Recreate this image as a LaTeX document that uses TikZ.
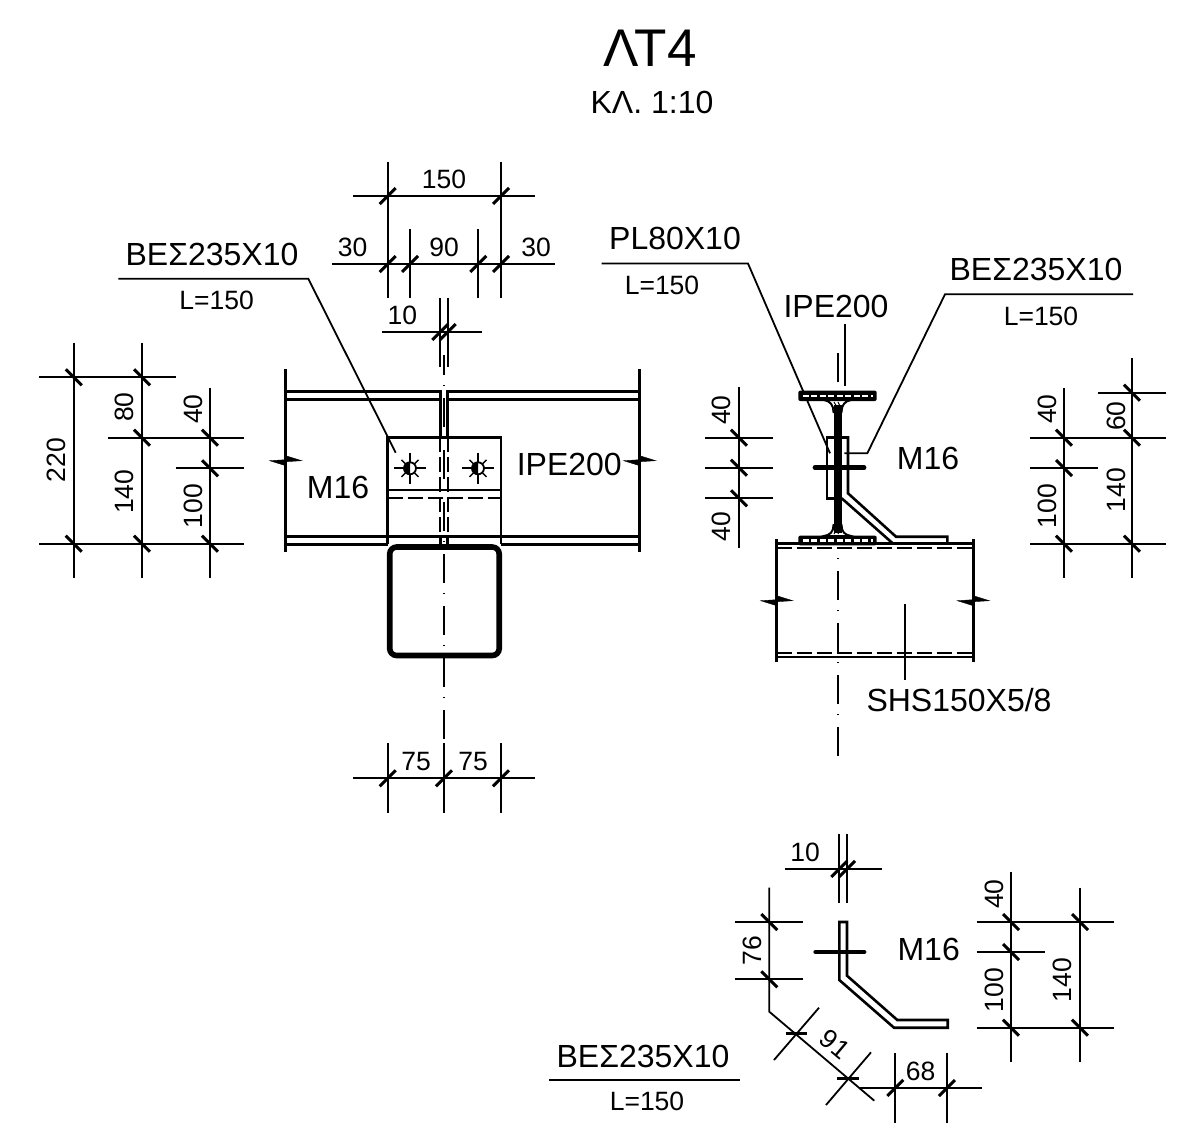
\documentclass[tikz,border=0pt]{standalone}
\usepackage{fontspec}
\setmainfont{Liberation Sans}
\usetikzlibrary{positioning}
\tikzset{
  outline/.style={black, line width=2.6pt},
  hiddenline/.style={black, line width=2pt, dash pattern=on 15pt off 5pt},
  axisline/.style={black, line width=1.4pt, dash pattern=on 29pt off 12pt on 1pt off 10pt},
  dimline/.style={black, line width=1.8pt},
  dimtick/.style={black, line width=3pt},
  boltline/.style={black, line width=4.8pt, line cap=round},
  dimtext/.style={inner sep=0pt, font=\fontsize{26.5}{26}\selectfont},
  marktext/.style={inner sep=0pt, font=\fontsize{32}{32}\selectfont}
}
\begin{document}
\begin{tikzpicture}[x=1pt,y=-1pt]
      \useasboundingbox (0,0) rectangle (1177,1124);
      \node[inner sep=0pt, font=\fontsize{53}{53}\selectfont] (title) at (650,48.5) {ΛΤ4};
      \node[marktext] (scale) at (652,102) {ΚΛ. 1:10};

      % left view, beam
      \draw[outline] (285.7,369) -- (285.7,552.3);
      \draw[outline] (639.7,369) -- (639.7,552.3);
      \draw[outline] (285.7,391.7) -- (440.3,391.7) -- (440.3,437.3);
      \draw[outline] (285.7,399.3) -- (440.3,399.3);
      \draw[outline] (639.7,391.7) -- (447.7,391.7) -- (447.7,437.3);
      \draw[outline] (639.7,399.3) -- (447.7,399.3);
      \draw[outline] (285.7,536.7) -- (639.7,536.7);
      \draw[outline] (285.7,544.3) -- (387.7,544.3);
      \draw[outline] (501,544.3) -- (639.7,544.3);
      \draw[hiddenline] (440.3,437.3) -- (440.3,536.7);
      \draw[hiddenline] (447.7,437.3) -- (447.7,536.7);
      \draw[outline] (440.3,536.7) -- (440.3,544);
      \draw[outline] (447.7,536.7) -- (447.7,544);
      \draw[axisline] (444,739) -- (444,355);
      \filldraw[black, shift={(285.7,460.7)}] (-16,0) -- (0,-1) -- (0,5) -- cycle (16,0) -- (0,1) -- (0,-5) -- cycle;
      \filldraw[black, shift={(639.7,460.7)}] (-16,0) -- (0,-1) -- (0,5) -- cycle (16,0) -- (0,1) -- (0,-5) -- cycle;

      % left view, angle and column
      \draw[outline] (387.7,544) -- (387.7,437.3) -- (501,437.3) -- (501,544);
      \draw[outline] (387.7,490) -- (501,490);
      \draw[hiddenline] (387.7,498.3) -- (501,498.3);
      \draw[black, line width=5.6pt, rounded corners=7pt] (389.7,547) rectangle (499.2,655.5);
      \draw[dimline] (394.3,468.3) -- (425.7,468.3);
      \draw[dimline] (410,452.6) -- (410,484);
      \draw[black, line width=1.4pt] (404,462.3) ++(-2.5,-2.5) -- ++(17,17);
      \draw[black, line width=1.4pt] (404,474.3) ++(-2.5,2.5) -- ++(17,-17);
      \filldraw[fill=white, draw=black, line width=1.8pt] (410,468.3) circle (6);
      \fill[black] (410,468.3) ++(0,-6.5) arc (270:90:6.5) -- cycle;
      \draw[dimline] (462.3,468.3) -- (493.7,468.3);
      \draw[dimline] (478,452.6) -- (478,484);
      \draw[black, line width=1.4pt] (472,462.3) ++(-2.5,-2.5) -- ++(17,17);
      \draw[black, line width=1.4pt] (472,474.3) ++(-2.5,2.5) -- ++(17,-17);
      \filldraw[fill=white, draw=black, line width=1.8pt] (478,468.3) circle (6);
      \fill[black] (478,468.3) ++(0,-6.5) arc (270:90:6.5) -- cycle;

      \node[marktext] (leftbolt) at (338,487.3) {M16};
      \node[marktext] (leftbeam) at (569.3,464) {IPE200};
      \node[marktext] (leftangle) at (212,254) {ΒΕΣ235X10};
      \node[dimtext] (leftlength) at (216.7,300.7) {L=150};
      \draw[dimline] (118.3,278.7) -- (308.3,278.7) -- (395.7,452.7);

      % left view, dimensions above
      \draw[dimline] (353,196) -- (535,196);
      \draw[dimline] (331.7,264) -- (555,264);
      \draw[dimline] (382,332) -- (482,332);
      \draw[dimline] (387.7,161.7) -- (387.7,298);
      \draw[dimline] (501,161.7) -- (501,298);
      \draw[dimline] (410,229) -- (410,298);
      \draw[dimline] (478.3,229) -- (478.3,298);
      \draw[dimline] (440.3,298) -- (440.3,367);
      \draw[dimline] (447.7,298) -- (447.7,367);
      \draw[dimtick] (387.7,196) ++(-8,8) -- ++(16,-16);
      \draw[dimtick] (501,196) ++(-8,8) -- ++(16,-16);
      \draw[dimtick] (387.7,264) ++(-8,8) -- ++(16,-16);
      \draw[dimtick] (410,264) ++(-8,8) -- ++(16,-16);
      \draw[dimtick] (478.3,264) ++(-8,8) -- ++(16,-16);
      \draw[dimtick] (501,264) ++(-8,8) -- ++(16,-16);
      \draw[dimtick] (440.3,332) ++(-8,8) -- ++(16,-16);
      \draw[dimtick] (447.7,332) ++(-8,8) -- ++(16,-16);
      \node[dimtext] (topwidth) at (444,179.3) {150};
      \node[dimtext] (topleft) at (352.5,247.7) {30};
      \node[dimtext] (topmid) at (444,247.7) {90};
      \node[dimtext] (topright) at (536,247.7) {30};
      \node[dimtext] (topweb) at (402.3,315.7) {10};

      % left view, dimensions at the side
      \draw[dimline] (73.7,342.7) -- (73.7,578.3);
      \draw[dimline] (142,342.7) -- (142,578.3);
      \draw[dimline] (210,387.7) -- (210,578.3);
      \draw[dimline] (39.3,377.3) -- (176,377.3);
      \draw[dimline] (107.7,437.7) -- (244.3,437.7);
      \draw[dimline] (175.7,468.3) -- (244.3,468.3);
      \draw[dimline] (39.3,543.7) -- (244.3,543.7);
      \draw[dimtick] (73.7,377.3) ++(-8,-8) -- ++(16,16);
      \draw[dimtick] (142,377.3) ++(-8,-8) -- ++(16,16);
      \draw[dimtick] (142,437.7) ++(-8,-8) -- ++(16,16);
      \draw[dimtick] (210,437.7) ++(-8,-8) -- ++(16,16);
      \draw[dimtick] (210,468.3) ++(-8,-8) -- ++(16,16);
      \draw[dimtick] (73.7,543.7) ++(-8,-8) -- ++(16,16);
      \draw[dimtick] (142,543.7) ++(-8,-8) -- ++(16,16);
      \draw[dimtick] (210,543.7) ++(-8,-8) -- ++(16,16);
      \node[dimtext, rotate=90] (sidetotal) at (56,460) {220};
      \node[dimtext, rotate=90] (sideupper) at (124.7,407) {80};
      \node[dimtext, rotate=90] (sidelower) at (124.7,491.7) {140};
      \node[dimtext, rotate=90] (sidebolt) at (193,409) {40};
      \node[dimtext, rotate=90] (sideangle) at (193,506) {100};

      % left view, dimensions below
      \draw[dimline] (353,778.3) -- (535,778.3);
      \draw[dimline] (387.7,743) -- (387.7,813);
      \draw[dimline] (444,743) -- (444,813);
      \draw[dimline] (501,743) -- (501,813);
      \draw[dimtick] (387.7,778.3) ++(-8,8) -- ++(16,-16);
      \draw[dimtick] (444,778.3) ++(-8,8) -- ++(16,-16);
      \draw[dimtick] (501,778.3) ++(-8,8) -- ++(16,-16);
      \node[dimtext] (lowleft) at (416,761.7) {75};
      \node[dimtext] (lowright) at (473,761.7) {75};

      % right view, leaders
      \draw[dimline] (601.7,263.5) -- (748,263.5) -- (830,453.3);
      \draw[dimline] (1133,294.3) -- (945,294.3) -- (867.3,453.3) -- (844.3,453.3);
      \draw[dimline] (845,324) -- (845,385.5);
      \draw[axisline] (838,353) -- (838,383);
      \node[marktext] (platename) at (675,238) {PL80X10};
      \node[dimtext] (platelength) at (662,285) {L=150};
      \node[marktext] (rightangle) at (1036,269) {ΒΕΣ235X10};
      \node[dimtext] (rightlength) at (1041,316) {L=150};
      \node[marktext] (rightbeam) at (836,306) {IPE200};
      \node[marktext] (rightbolt) at (928,458) {M16};

      % right view, column
      \draw[outline] (776.7,539.3) -- (776.7,661.7);
      \draw[outline] (973.3,539.3) -- (973.3,661.7);
      \draw[outline] (776.7,543.5) -- (973.3,543.5);
      \draw[outline] (776.7,657) -- (973.3,657);
      \draw[hiddenline] (776.7,547.5) -- (973.3,547.5);
      \draw[hiddenline] (776.7,653) -- (973.3,653);
      \draw[axisline] (838,755.7) -- (838,548);
      \filldraw[black, shift={(776.7,600.7)}] (-16,0) -- (0,-1) -- (0,5) -- cycle (16,0) -- (0,1) -- (0,-5) -- cycle;
      \filldraw[black, shift={(973.3,600.7)}] (-16,0) -- (0,-1) -- (0,5) -- cycle (16,0) -- (0,1) -- (0,-5) -- cycle;
      \draw[dimline] (905,604) -- (905,680);
      \node[marktext] (columnname) at (959,700) {SHS150X5/8};

      % right view, beam section
      \fill[black, rounded corners=2pt] (798.3,390.6) rectangle (876.7,401);
      \draw[white, line width=2.2pt, dash pattern=on 6pt off 2.5pt] (802.5,395.8) -- (872.5,395.8);
      \fill[black, rounded corners=2pt] (798.3,535.6) rectangle (876.7,545.4);
      \draw[white, line width=2.2pt, dash pattern=on 6pt off 2.5pt] (802.5,540.5) -- (872.5,540.5);
      \filldraw[fill=white, draw=black, line width=2pt] (833.5,412) .. controls (833.5,405) and (830,401) .. (824,400) -- (851,400) .. controls (845,401) and (841.5,405) .. (841.5,412) -- cycle;
      \filldraw[fill=white, draw=black, line width=2pt] (833.5,525) .. controls (833.5,532) and (830,535) .. (824,536) -- (851,536) .. controls (845,535) and (841.5,532) .. (841.5,525) -- cycle;
      \draw[black, line width=1pt] (834,402) -- (838,409);
      \draw[black, line width=1pt] (838,402) -- (840,406);
      \draw[black, line width=1pt] (834,534) -- (838,527);
      \draw[black, line width=1pt] (838,534) -- (840,530);
      \fill[black] (833.5,405) rectangle (841.5,533);

      % right view, plate and angle
      \draw[outline] (841.7,437.5) -- (827,437.5) -- (827,498.3) -- (834,498.3);
      \draw[outline] (841.7,437.5) -- (848,437.5) -- (848,493.3) -- (896,536.7) -- (947.3,536.7) -- (947.3,543.5);
      \draw[outline] (841.7,498.3) -- (892.7,543.3);
      \draw[boltline] (815,467.7) -- (864,467.7);

      % right view, dimensions
      \draw[dimline] (739,387.3) -- (739,548.3);
      \draw[dimline] (705,437.7) -- (773.3,437.7);
      \draw[dimline] (705,467.7) -- (773.3,467.7);
      \draw[dimline] (705,498.3) -- (773.3,498.3);
      \draw[dimtick] (739,437.7) ++(-8,-8) -- ++(16,16);
      \draw[dimtick] (739,467.7) ++(-8,-8) -- ++(16,16);
      \draw[dimtick] (739,498.3) ++(-8,-8) -- ++(16,16);
      \node[dimtext, rotate=90] (midupper) at (721.7,410) {40};
      \node[dimtext, rotate=90] (midlower) at (721.7,526.7) {40};
      \draw[dimline] (1064,388) -- (1064,578.3);
      \draw[dimline] (1132,358.3) -- (1132,578.3);
      \draw[dimline] (1098,392.7) -- (1166,392.7);
      \draw[dimline] (1030,437.7) -- (1166,437.7);
      \draw[dimline] (1030,468) -- (1098,468);
      \draw[dimline] (1030,543.7) -- (1166,543.7);
      \draw[dimtick] (1064,437.7) ++(-8,-8) -- ++(16,16);
      \draw[dimtick] (1064,468) ++(-8,-8) -- ++(16,16);
      \draw[dimtick] (1064,543.7) ++(-8,-8) -- ++(16,16);
      \draw[dimtick] (1132,392.7) ++(-8,-8) -- ++(16,16);
      \draw[dimtick] (1132,437.7) ++(-8,-8) -- ++(16,16);
      \draw[dimtick] (1132,543.7) ++(-8,-8) -- ++(16,16);
      \node[dimtext, rotate=90] (farbolt) at (1047,409) {40};
      \node[dimtext, rotate=90] (farangle) at (1047,506) {100};
      \node[dimtext, rotate=90] (fartop) at (1116,416) {60};
      \node[dimtext, rotate=90] (farlower) at (1116,490) {140};

      % angle alone
      \draw[outline] (839.3,922) -- (839.3,980) -- (894,1027.7) -- (947.7,1027.7) -- (947.7,1020) -- (897.3,1020) -- (847,975.7) -- (847,922) -- cycle;
      \draw[boltline] (815.7,952) -- (864,952);
      \node[marktext] (lowbolt) at (928.7,949) {M16};
      \node[marktext] (lowangle) at (643,1056) {ΒΕΣ235X10};
      \node[dimtext] (lowlength) at (647,1101.7) {L=150};
      \draw[dimline, line width=2.2pt] (549,1080.3) -- (740,1080.3);

      % angle alone, dimensions
      \draw[dimline] (785,869) -- (881.7,869);
      \draw[dimline] (839.3,834.3) -- (839.3,903.3);
      \draw[dimline] (847,834.3) -- (847,903.3);
      \draw[dimtick] (839.3,869) ++(-8,8) -- ++(16,-16);
      \draw[dimtick] (847,869) ++(-8,8) -- ++(16,-16);
      \node[dimtext] (lowweb) at (805,852.3) {10};
      \draw[dimline] (769.3,887.7) -- (769.3,1011.7) -- (874.3,1100.7);
      \draw[dimline] (735,922) -- (803.3,922);
      \draw[dimline] (735,979.3) -- (803.3,979.3);
      \draw[dimtick] (769.3,922) ++(-8,-8) -- ++(16,16);
      \draw[dimtick] (769.3,979.3) ++(-8,-8) -- ++(16,16);
      \node[dimtext, rotate=90] (lowleg) at (752.3,950.7) {76};
      \draw[dimline] (819,1007.7) -- (774,1060);
      \draw[dimline] (871,1052.3) -- (826,1105);
      \draw[dimtick] (785.7,1033.3) -- (807.3,1033.3);
      \draw[dimtick] (837.3,1078) -- (859.3,1078);
      \node[dimtext, rotate=-40] (lowslope) at (835,1044) {91};
      \draw[dimline] (860,1088) -- (981.7,1088);
      \draw[dimline] (895.3,1053.3) -- (895.3,1123);
      \draw[dimline] (947,1053.3) -- (947,1123);
      \draw[dimtick] (895.3,1088) ++(-8,8) -- ++(16,-16);
      \draw[dimtick] (947,1088) ++(-8,8) -- ++(16,-16);
      \node[dimtext] (lowfoot) at (920.7,1071.7) {68};
      \draw[dimline] (1011,871.7) -- (1011,1062.3);
      \draw[dimline] (1080,887.5) -- (1080,1062.3);
      \draw[dimline] (976.7,922) -- (1114,922);
      \draw[dimline] (976.7,952) -- (1045,952);
      \draw[dimline] (976.7,1027.7) -- (1114,1027.7);
      \draw[dimtick] (1011,922) ++(-8,-8) -- ++(16,16);
      \draw[dimtick] (1011,952) ++(-8,-8) -- ++(16,16);
      \draw[dimtick] (1011,1027.7) ++(-8,-8) -- ++(16,16);
      \draw[dimtick] (1080,922) ++(-8,-8) -- ++(16,16);
      \draw[dimtick] (1080,1027.7) ++(-8,-8) -- ++(16,16);
      \node[dimtext, rotate=90] (lowbolttop) at (994,894) {40};
      \node[dimtext, rotate=90] (lowboltbot) at (994,990) {100};
      \node[dimtext, rotate=90] (lowheight) at (1062,980) {140};
    \end{tikzpicture}
\end{document}
